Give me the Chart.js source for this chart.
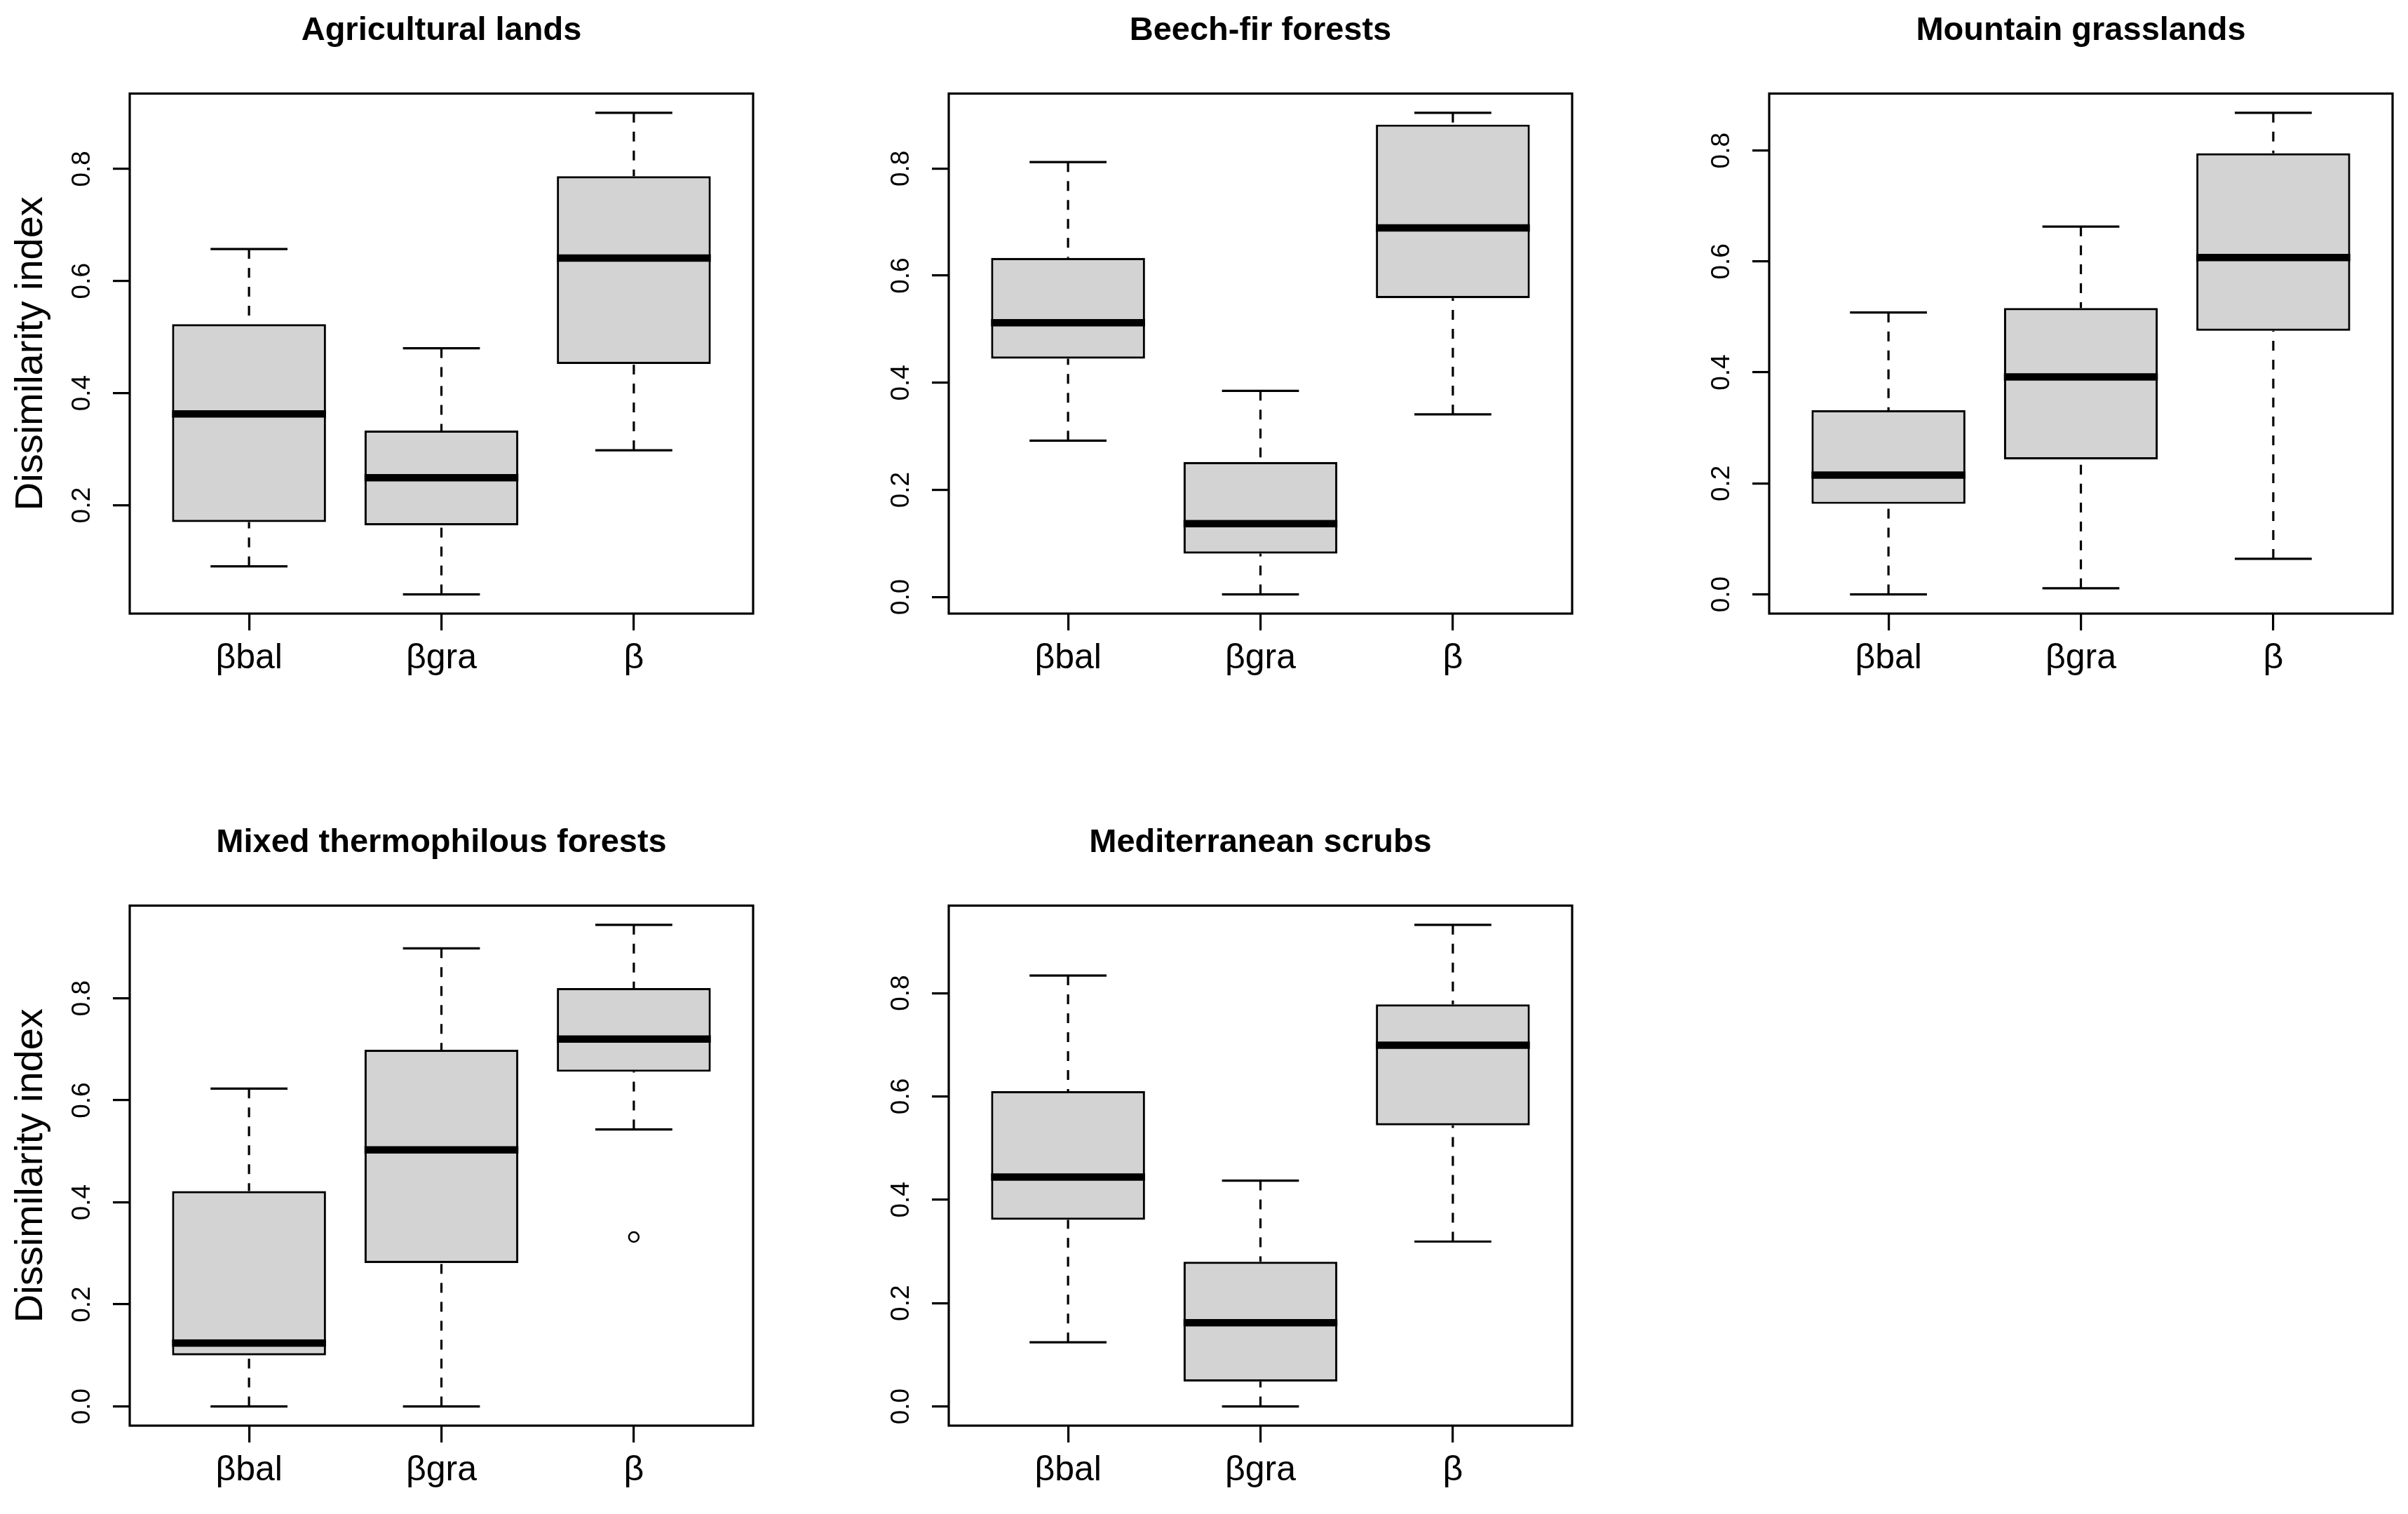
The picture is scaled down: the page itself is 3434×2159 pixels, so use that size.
<!DOCTYPE html>
<html>
<head>
<meta charset="utf-8">
<title>Dissimilarity index boxplots</title>
<script src="https://cdn.jsdelivr.net/npm/chart.js@4.4.1/dist/chart.umd.min.js"></script>
<style>
  html, body { margin: 0; padding: 0; background: #fff; }
  #page { position: relative; width: 3434px; height: 2159px; overflow: hidden; background: #fff; }
  #page canvas { position: absolute; }
</style>
</head>
<body>
<div id="page"></div>
<script>
const categories = ['βbal', 'βgra', 'β'];
const yTicks = [0, 0.2, 0.4, 0.6, 0.8];
const panelTitles = ['Agricultural lands', 'Beech-fir forests', 'Mountain grasslands',
  'Mixed thermophilous forests', 'Mediterranean scrubs'];

// Agricultural lands
const agriLow = [0.091, 0.041, 0.298];
const agriQ1 = [0.170, 0.164, 0.452];
const agriMed = [0.363, 0.249, 0.641];
const agriQ3 = [0.523, 0.333, 0.787];
const agriHigh = [0.657, 0.480, 0.900];
const agriOut = [[], [], []];

// Beech-fir forests
const beechLow = [0.292, 0.005, 0.341];
const beechQ1 = [0.445, 0.081, 0.558];
const beechMed = [0.512, 0.137, 0.689];
const beechQ3 = [0.633, 0.252, 0.882];
const beechHigh = [0.812, 0.385, 0.904];
const beechOut = [[], [], []];

// Mountain grasslands
const mountLow = [0.000, 0.011, 0.064];
const mountQ1 = [0.163, 0.243, 0.475];
const mountMed = [0.215, 0.392, 0.607];
const mountQ3 = [0.332, 0.516, 0.795];
const mountHigh = [0.508, 0.663, 0.868];
const mountOut = [[], [], []];

// Mixed thermophilous forests
const mixedLow = [0.000, 0.000, 0.543];
const mixedQ1 = [0.100, 0.281, 0.656];
const mixedMed = [0.124, 0.503, 0.720];
const mixedQ3 = [0.422, 0.699, 0.820];
const mixedHigh = [0.623, 0.898, 0.944];
const mixedOut = [[], [], [0.332]];

// Mediterranean scrubs
const mediLow = [0.124, 0.000, 0.319];
const mediQ1 = [0.361, 0.048, 0.544];
const mediMed = [0.444, 0.162, 0.699];
const mediQ3 = [0.610, 0.280, 0.778];
const mediHigh = [0.834, 0.437, 0.932];
const mediOut = [[], [], []];

const panels = [
  { title: panelTitles[0], low: agriLow, q1: agriQ1, med: agriMed, q3: agriQ3, high: agriHigh, out: agriOut, yLabel: true },
  { title: panelTitles[1], low: beechLow, q1: beechQ1, med: beechMed, q3: beechQ3, high: beechHigh, out: beechOut },
  { title: panelTitles[2], low: mountLow, q1: mountQ1, med: mountMed, q3: mountQ3, high: mountHigh, out: mountOut },
  { title: panelTitles[3], low: mixedLow, q1: mixedQ1, med: mixedMed, q3: mixedQ3, high: mixedHigh, out: mixedOut, yLabel: true },
  { title: panelTitles[4], low: mediLow, q1: mediQ1, med: mediMed, q3: mediQ3, high: mediHigh, out: mediOut }
];

const spots = [[0, 0], [1168, 0], [2338, 0], [0, 1158], [1168, 1158]];
const FONT = "'Liberation Sans', Arial, Helvetica, sans-serif";
const LW = 3.2;

Chart.defaults.font.family = FONT;
Chart.defaults.color = '#000';

// whiskers, caps, medians, frame and rotated y labels, like R's boxplot
const boxplotBits = {
  id: 'boxplotBits',
  afterDatasetsDraw(chart) {
    const p = chart.canvas.$panel;
    if (!p) return;
    const { ctx, chartArea, scales: { x, y } } = chart;
    const bars = chart.getDatasetMeta(0).data;
    ctx.save();
    ctx.strokeStyle = '#000';
    ctx.lineWidth = LW;
    bars.forEach((bar, i) => {
      const cx = x.getPixelForValue(i + 1);
      const half = bar.width / 2;
      const yLo = y.getPixelForValue(p.low[i]);
      const yHi = y.getPixelForValue(p.high[i]);
      ctx.setLineDash([14, 13]);
      ctx.beginPath();
      ctx.moveTo(cx, yLo); ctx.lineTo(cx, y.getPixelForValue(p.q1[i]));
      ctx.moveTo(cx, yHi); ctx.lineTo(cx, y.getPixelForValue(p.q3[i]));
      ctx.stroke();
      ctx.setLineDash([]);
      ctx.beginPath();
      ctx.moveTo(cx - half / 2, yLo); ctx.lineTo(cx + half / 2, yLo);
      ctx.moveTo(cx - half / 2, yHi); ctx.lineTo(cx + half / 2, yHi);
      ctx.stroke();
      const ym = y.getPixelForValue(p.med[i]);
      ctx.lineWidth = 10.5;
      ctx.lineCap = 'butt';
      ctx.beginPath();
      ctx.moveTo(cx - half, ym); ctx.lineTo(cx + half, ym);
      ctx.stroke();
      ctx.lineWidth = LW;
    });
    ctx.strokeRect(chartArea.left, chartArea.top, chartArea.right - chartArea.left, chartArea.bottom - chartArea.top);

    ctx.fillStyle = '#000';
    ctx.font = '37px ' + FONT;
    ctx.textAlign = 'center';
    ctx.textBaseline = 'middle';
    y.ticks.forEach(t => {
      ctx.save();
      ctx.translate(chartArea.left - 67, y.getPixelForValue(t.value));
      ctx.rotate(-Math.PI / 2);
      ctx.fillText(t.value.toFixed(1), 0, 0);
      ctx.restore();
    });
    ctx.restore();
  }
};

panels.forEach((p, k) => {
  const canvas = document.createElement('canvas');
  canvas.width = 1096;
  canvas.height = 1000;
  canvas.style.left = spots[k][0] + 'px';
  canvas.style.top = spots[k][1] + 'px';
  canvas.$panel = p;
  document.getElementById('page').appendChild(canvas);

  const all = p.low.concat(p.high, p.out.flat());
  const lo = Math.min(...all), hi = Math.max(...all);
  const pad = (hi - lo) * 0.04;
  const outliers = [];
  p.out.forEach((vals, i) => vals.forEach(v => outliers.push({ x: i + 1, y: v })));

  new Chart(canvas.getContext('2d'), {
    type: 'bar',
    data: {
      datasets: [
        {
          data: categories.map((c, i) => ({ x: i + 1, y: [p.q1[i], p.q3[i]] })),
          backgroundColor: '#d3d3d3',
          borderColor: '#000',
          borderWidth: LW,
          borderSkipped: false,
          barPercentage: 0.8,
          categoryPercentage: 1
        },
        {
          type: 'scatter',
          data: outliers,
          pointStyle: 'circle',
          pointRadius: 7,
          borderWidth: 2.5,
          borderColor: '#000',
          backgroundColor: 'rgba(0,0,0,0)'
        }
      ]
    },
    options: {
      responsive: false,
      devicePixelRatio: 1,
      animation: false,
      layout: { padding: { left: 0, right: 22, top: 0, bottom: 0 } },
      plugins: {
        legend: { display: false },
        tooltip: { enabled: false },
        title: {
          display: true,
          fullSize: false,
          text: p.title,
          color: '#000',
          font: { size: 47, weight: 'bold', lineHeight: 1.2 },
          padding: { top: 16, bottom: 61 }
        }
      },
      scales: {
        x: {
          type: 'linear',
          min: 0.5 - 0.04 * categories.length,
          max: categories.length + 0.5 + 0.04 * categories.length,
          offset: false,
          afterBuildTicks: s => { s.ticks = categories.map((c, i) => ({ value: i + 1 })); },
          afterFit: s => { s.height = 125; },
          border: { display: false },
          grid: { offset: false, drawOnChartArea: false, drawTicks: true, tickLength: 24, color: '#000', lineWidth: LW },
          ticks: {
            autoSkip: false,
            maxRotation: 0,
            padding: 10,
            color: '#000',
            font: { size: 50 },
            callback: v => categories[v - 1]
          }
        },
        y: {
          type: 'linear',
          min: lo - pad,
          max: hi + pad,
          afterBuildTicks: s => {
            s.ticks = yTicks.filter(v => v >= s.min && v <= s.max).map(v => ({ value: v }));
          },
          afterFit: s => { s.width = 185; },
          border: { display: false },
          grid: { drawOnChartArea: false, drawTicks: true, tickLength: 24, color: '#000', lineWidth: LW },
          ticks: { display: false },
          title: {
            display: !!p.yLabel,
            text: 'Dissimilarity index',
            color: '#000',
            font: { size: 56, lineHeight: 1.2 },
            padding: { top: 11, bottom: 0 }
          }
        }
      }
    },
    plugins: [boxplotBits]
  });
});
</script>
</body>
</html>
